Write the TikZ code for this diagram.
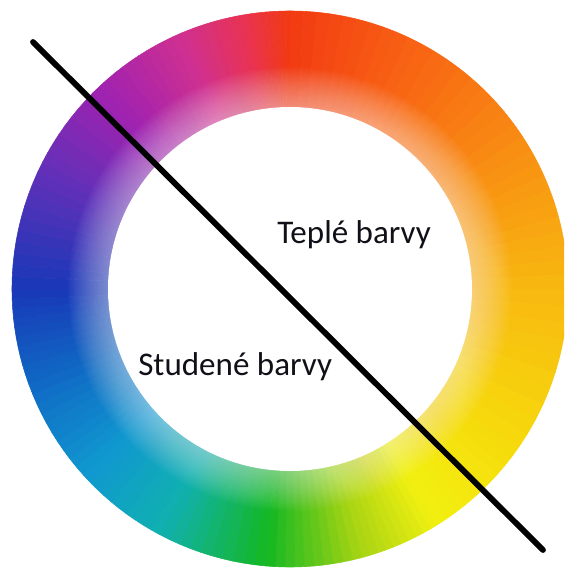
\documentclass[tikz,border=0pt]{standalone}
\usepackage{fontspec}
\setsansfont{Carlito}
\usepackage{xcolor}
\definecolor{cwred}{HTML}{F23A12}
\definecolor{cworangered}{HTML}{F86414}
\definecolor{cworange}{HTML}{F89012}
\definecolor{cwamber}{HTML}{F8B810}
\definecolor{cwgold}{HTML}{F6DA0C}
\definecolor{cwyellow}{HTML}{F2F010}
\definecolor{cwlime}{HTML}{A8D414}
\definecolor{cwgreen}{HTML}{14B822}
\definecolor{cwteal}{HTML}{10B0B0}
\definecolor{cwcyan}{HTML}{1098D0}
\definecolor{cwazure}{HTML}{1068C4}
\definecolor{cwblue}{HTML}{1838B8}
\definecolor{cwviolet}{HTML}{6030B8}
\definecolor{cwpurple}{HTML}{A022B0}
\definecolor{cwmagenta}{HTML}{D03090}
\definecolor{cwrose}{HTML}{E83254}
\definecolor{cwink}{HTML}{101018}
\usepackage{tikz}
\usetikzlibrary{positioning,calc}
\tikzset{
  cwlabel/.style={font=\sffamily\fontsize{23.5}{28}\selectfont,text=cwink,inner sep=0pt,anchor=base west},
  cwsplit/.style={line width=1.45mm,line cap=round,black},
}

\begin{document}
\begin{tikzpicture}[x=0.25mm,y=0.25mm]
\useasboundingbox (0,0) rectangle (564,569);
\clip (0,0) rectangle (564,569);
 % colour wheel
\begin{scope}[shift={(290,280)}]
\foreach \sa/\ea/\cs/\ce in {90/62/cwred/cworangered,62/30/cworangered/cworange,30/0/cworange/cwamber,0/-35/cwamber/cwgold,-35/-58/cwgold/cwyellow,-58/-75/cwyellow/cwlime,-75/-95/cwlime/cwgreen,-95/-118/cwgreen/cwteal,-118/-138/cwteal/cwcyan,-138/-160/cwcyan/cwazure,-160/-180/cwazure/cwblue,180/155/cwblue/cwviolet,155/133/cwviolet/cwpurple,133/113/cwpurple/cwmagenta,113/100/cwmagenta/cwrose,100/90/cwrose/cwred}{
  \foreach \k in {0,...,9}{
    \pgfmathsetmacro\aa{\sa+(\ea-\sa)*\k/10}
    \pgfmathsetmacro\bb{\sa+(\ea-\sa)*(\k+1)/10}
    \pgfmathtruncatemacro\pp{\k*10+5}
    \fill[\ce!\pp!\cs,draw=\ce!\pp!\cs,line width=0.4pt] (\aa:182) -- (\aa:278) arc[start angle=\aa,end angle=\bb,radius=278] -- (\bb:182) arc[start angle=\bb,end angle=\aa,radius=182] -- cycle;
  }
}
\foreach \k in {1,...,18}
  \fill[white,opacity=0.03,even odd rule] (0,0) circle (182+\k*2.2) (0,0) circle (182);
\fill[white] (0,0) circle (182);
\end{scope}
\coordinate (splitA) at (33,527);
\coordinate (splitB) at (543,19);
\draw[cwsplit] (splitA) -- (splitB);
\node[cwlabel] (warm) at (277,325) {Teplé barvy};
\node[cwlabel] (cold) at (138,193) {Studené barvy};
\end{tikzpicture}
\end{document}
